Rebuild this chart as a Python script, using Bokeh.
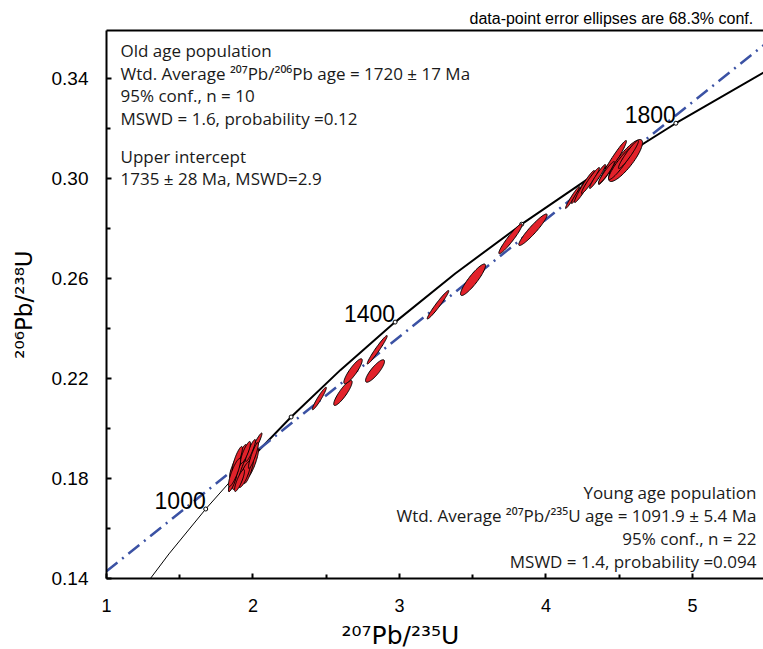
import numpy as np
from bokeh.plotting import figure
from bokeh.models import Label, LinearAxis, FixedTicker, Range1d, PrintfTickFormatter, Title
from bokeh.embed import file_html
from bokeh.resources import INLINE

# ---------------- data ----------------
# Concordia curve: age (Ma), 207Pb/235U, 206Pb/238U
conc_age = [800, 900, 1000, 1100, 1200, 1300, 1400, 1500, 1600, 1700, 1800, 1900, 2000]
conc_x = [1.19875, 1.42629, 1.67741, 1.95452, 2.26032, 2.59774, 2.97010,
          3.38096, 3.83441, 4.33476, 4.88691, 5.49618, 6.16853]
conc_y = [0.13214, 0.14983, 0.16780, 0.18606, 0.20460, 0.22344, 0.24256,
          0.26199, 0.28172, 0.30176, 0.32211, 0.34277, 0.36377]
marker_ages = [1000, 1200, 1400, 1600, 1800]
label_ages = [1000, 1400, 1800]

# Discordia (regression) line end points
disc_x = [1.0, 5.49]
disc_y = [0.1429, 0.3535]

# Error ellipses: centre, half extents (x, y) and correlation
young_x = [2.017, 1.915, 1.942, 1.962, 1.887, 1.928, 1.983, 1.901, 1.867, 1.956, 1.997,
           1.922, 1.881, 1.969, 1.860, 1.942, 1.894, 1.983, 1.908, 1.949, 2.003, 1.874]
young_y = [0.1932, 0.1864, 0.1880, 0.1872, 0.1832, 0.1840, 0.1888, 0.1812, 0.1800, 0.1848, 0.1864,
           0.1892, 0.1852, 0.1832, 0.1784, 0.1816, 0.1880, 0.1912, 0.1792, 0.1904, 0.1892, 0.1824]
young_ex = [0.0444, 0.0478, 0.0410, 0.0478, 0.0478, 0.0546, 0.0410, 0.0410, 0.0341, 0.0546, 0.0410,
            0.0341, 0.0410, 0.0341, 0.0273, 0.0410, 0.0341, 0.0341, 0.0341, 0.0341, 0.0341, 0.0410]
young_ey = [0.0050, 0.0064, 0.0060, 0.0068, 0.0064, 0.0068, 0.0056, 0.0056, 0.0052, 0.0072, 0.0060,
            0.0044, 0.0052, 0.0052, 0.0036, 0.0052, 0.0048, 0.0044, 0.0044, 0.0044, 0.0052, 0.0056]
young_rho = [0.95, 0.85, 0.85, 0.80, 0.85, 0.80, 0.85, 0.85, 0.90, 0.85, 0.85,
             0.85, 0.85, 0.80, 0.85, 0.80, 0.85, 0.90, 0.85, 0.85, 0.90, 0.85]

mid_x = [2.453, 2.614, 2.683, 2.833, 2.848, 3.263, 3.502, 3.758, 3.911]
mid_y = [0.2120, 0.2142, 0.2229, 0.2230, 0.2315, 0.2495, 0.2595, 0.2759, 0.2795]
mid_ex = [0.0478, 0.0628, 0.0628, 0.0648, 0.0683, 0.0737, 0.0853, 0.0799, 0.0969]
mid_ey = [0.0045, 0.0050, 0.0050, 0.0045, 0.0057, 0.0057, 0.0063, 0.0060, 0.0063]
mid_rho = [0.95, 0.88, 0.88, 0.85, 0.97, 0.97, 0.90, 0.95, 0.94]

old_x = [4.181, 4.235, 4.263, 4.304, 4.352, 4.454, 4.543, 4.509, 4.563, 4.413]
old_y = [0.2924, 0.2952, 0.2968, 0.2992, 0.3008, 0.3064, 0.3072, 0.3060, 0.3096, 0.3024]
old_ex = [0.0478, 0.0614, 0.0683, 0.0614, 0.0546, 0.0956, 0.1160, 0.0819, 0.0683, 0.0546]
old_ey = [0.0044, 0.0052, 0.0064, 0.0052, 0.0048, 0.0088, 0.0084, 0.0064, 0.0056, 0.0044]
old_rho = [0.97, 0.97, 0.96, 0.96, 0.96, 0.97, 0.85, 0.93, 0.95, 0.95]

x_ticks = [1, 2, 3, 4, 5]
x_minor = [1.5, 2.5, 3.5, 4.5]
y_ticks = [0.14, 0.18, 0.22, 0.26, 0.30, 0.34]
y_minor = [0.16, 0.20, 0.24, 0.28, 0.32]

x_title = "²⁰⁷Pb/²³⁵U"
y_title = "²⁰⁶Pb/²³⁸U"
note = "data-point error ellipses are 68.3% conf."

# ---------------- figure ----------------
X0, X1 = 1.0, 5.485
Y0, Y1 = 0.14, 0.3592
p = figure(frame_width=657, frame_height=548, x_range=Range1d(X0, X1), y_range=Range1d(Y0, Y1),
           output_backend="svg", toolbar_location=None,
           x_axis_type=None, y_axis_type=None,
           min_border_left=106, min_border_right=0, min_border_top=30, min_border_bottom=71)
p.outline_line_color = None
p.background_fill_color = "white"
p.border_fill_color = "white"

# reference pixel -> data helpers for placing texts
FL, FB = 106.0, 578.0
SX = 146.5
SY = 2500.0
def dx(px):
    return X0 + (px - FL) / SX
def dy(py):
    return Y0 + (FB - py) / SY

def style_axis(ax, fs):
    ax.axis_line_width = 2
    ax.axis_line_color = "black"
    ax.major_tick_in = 5
    ax.major_tick_out = 0
    ax.minor_tick_in = 4
    ax.minor_tick_out = 0
    ax.major_tick_line_width = 2
    ax.minor_tick_line_width = 2
    ax.major_label_text_font = "Liberation Sans"
    ax.major_label_text_font_size = fs
    ax.major_label_text_color = "black"

xaxis = LinearAxis(ticker=FixedTicker(ticks=x_ticks, minor_ticks=x_minor),
                   formatter=PrintfTickFormatter(format="%d"))
style_axis(xaxis, "18px")
xaxis.major_label_standoff = 20
p.add_layout(xaxis, "below")

yaxis = LinearAxis(ticker=FixedTicker(ticks=y_ticks, minor_ticks=y_minor),
                   formatter=PrintfTickFormatter(format="%.2f"))
style_axis(yaxis, "19px")
yaxis.major_label_standoff = 18
yaxis.axis_label = y_title
yaxis.axis_label_text_font = "DejaVu Sans"
yaxis.axis_label_text_font_size = "23px"
yaxis.axis_label_text_font_style = "normal"
yaxis.axis_label_text_color = "black"
yaxis.axis_label_standoff = 12
p.add_layout(yaxis, "left")

top = LinearAxis(ticker=FixedTicker(ticks=[]))
top.axis_line_width = 2
top.major_label_text_font_size = "0px"
top.major_label_standoff = 0
top.major_tick_in = 0
top.major_tick_out = 0
top.minor_tick_in = 0
top.minor_tick_out = 0
p.add_layout(top, "above")

p.add_layout(Title(text=note, align="left", offset=363, standoff=8,
                   text_font="Liberation Sans", text_font_size="16px",
                   text_font_style="normal", text_color="black"), "above")

p.add_layout(Title(text=x_title, align="left", offset=235, standoff=8,
                   text_font="DejaVu Sans", text_font_size="25px",
                   text_font_style="normal", text_color="black"), "below")

# concordia
split = conc_age.index(1100)
p.line(conc_x[:split + 1], conc_y[:split + 1], line_color="black", line_width=1)
p.line(conc_x[split:], conc_y[split:], line_color="black", line_width=2)

# discordia
p.line(disc_x, disc_y, line_color="#3b52a4", line_width=2.5, line_dash="14 6 2 6")

# concordia age markers
mi = [conc_age.index(a) for a in marker_ages]
p.scatter([conc_x[i] for i in mi], [conc_y[i] for i in mi], marker="circle", size=4,
          fill_color="white", line_color="black", line_width=1)

# ellipses
def ell(x0, y0, ex, ey, rho, n=72):
    t = np.linspace(0, 2 * np.pi, n)
    xs = x0 + ex * np.cos(t)
    ys = y0 + ey * (rho * np.cos(t) + np.sqrt(1 - rho ** 2) * np.sin(t))
    return list(xs), list(ys)

XS, YS = [], []
for gx, gy, gex, gey, gr in [(young_x, young_y, young_ex, young_ey, young_rho),
                             (mid_x, mid_y, mid_ex, mid_ey, mid_rho),
                             (old_x, old_y, old_ex, old_ey, old_rho)]:
    for a, b, c, d, r in zip(gx, gy, gex, gey, gr):
        xs, ys = ell(a, b, c, d, r)
        XS.append(xs)
        YS.append(ys)
p.patches(XS, YS, fill_color="#e2222a", line_color="black", line_width=1)

for a in label_ages:
    i = conc_age.index(a)
    p.add_layout(Label(x=conc_x[i], y=conc_y[i], text=str(a), text_align="right",
                       text_baseline="alphabetic", text_font="Liberation Sans",
                       text_font_size="23px", text_color="black", y_offset=9))

# annotation texts (anchor sits ~7px above the baseline)
AF = "Open Sans"
AS = "17px"
SH = 7
left_lines = [("Old age population", 57), ("Wtd. Average ²⁰⁷Pb/²⁰⁶Pb age = 1720 ± 17 Ma", 80),
              ("95% conf., n = 10", 102), ("MSWD = 1.6, probability =0.12", 125),
              ("Upper intercept", 163), ("1735 ± 28 Ma, MSWD=2.9", 185)]
for t, b in left_lines:
    p.add_layout(Label(x=dx(120), y=dy(b - SH), text=t, text_align="left", text_baseline="alphabetic",
                       text_font=AF, text_font_size=AS, text_color="#1a1a1a"))

right_lines = [("Young age population", 499), ("Wtd. Average ²⁰⁷Pb/²³⁵U age = 1091.9 ± 5.4 Ma", 522),
               ("95% conf., n = 22", 545), ("MSWD = 1.4, probability =0.094", 568)]
for t, b in right_lines:
    p.add_layout(Label(x=dx(756), y=dy(b - SH), text=t, text_align="right", text_baseline="alphabetic",
                       text_font=AF, text_font_size=AS, text_color="#1a1a1a"))

open("out.html", "w").write(file_html(p, INLINE))
